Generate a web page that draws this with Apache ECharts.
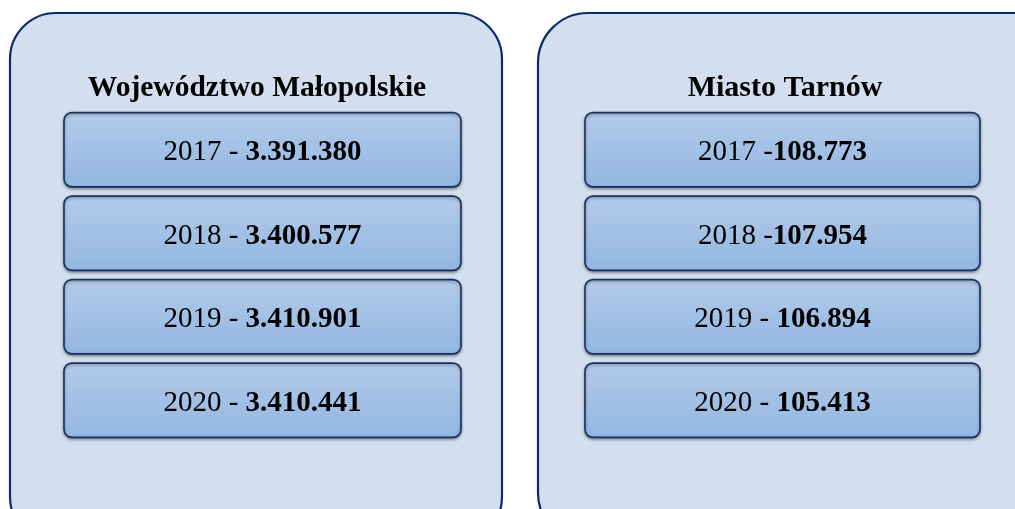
<!DOCTYPE html>
<html><head><meta charset="utf-8">
<script src="https://cdn.jsdelivr.net/npm/echarts@6/dist/echarts.min.js"></script>
<style>html,body{margin:0;padding:0;background:#fff}#c{width:1015px;height:509px}</style>
</head><body><div id="c"></div>
<script>
const years = ['2017', '2018', '2019', '2020'];
const titleLeft = 'Województwo Małopolskie';
const titleRight = 'Miasto Tarnów';
const valuesLeft = ['3.391.380', '3.400.577', '3.410.901', '3.410.441'];
const valuesRight = ['108.773', '107.954', '106.894', '105.413'];
const sepLeft = [' - ', ' - ', ' - ', ' - '];
const sepRight = [' -', ' -', ' - ', ' - '];

const FONT = '"Liberation Serif", "Times New Roman", serif';
const chart = echarts.init(document.getElementById('c'));

function makeRender(values, seps) {
  return function (params, api) {
    const i = api.value(0);
    const c = api.coord([0.5, i]);
    const s = api.size([1, 1]);
    const w = s[0], h = s[1] * 0.89;
    return {
      type: 'rect',
      shape: { x: c[0] - w / 2, y: c[1] - h / 2, width: w, height: h, r: 8 },
      style: {
        fill: new echarts.graphic.LinearGradient(0, 0, 0, 1, [
          { offset: 0, color: '#B3CBE9' },
          { offset: 1, color: '#92B6E2' }
        ]),
        stroke: '#1B2F5C',
        lineWidth: 1.6,
        shadowBlur: 3,
        shadowOffsetY: 1.5,
        shadowColor: 'rgba(0,0,0,0.35)'
      },
      textContent: {
        style: {
          text: '{a|' + years[i] + seps[i] + '}{b|' + values[i] + '}',
          fill: '#000',
          fontWeight: 'normal',
          rich: {
            a: { fontFamily: FONT, fontSize: 29, fontWeight: 'normal', fill: '#000' },
            b: { fontFamily: FONT, fontSize: 29, fontWeight: 'bold', fill: '#000' }
          }
        }
      },
      textConfig: { position: 'inside', offset: [0, 3], insideFill: '#000', insideStroke: 'transparent' }
    };
  };
}

const catAxis = (gi) => ({ type: 'category', gridIndex: gi, data: years, inverse: true, show: false });
const valAxis = (gi) => ({ type: 'value', gridIndex: gi, min: 0, max: 1, show: false });

chart.setOption({
  animation: false,
  graphic: [
    { type: 'rect', z: -10, shape: { x: 10, y: 13, width: 492, height: 530, r: 46 },
      style: { fill: '#D3DEEF', stroke: '#0D2A6B', lineWidth: 2.2 } },
    { type: 'rect', z: -10, shape: { x: 538, y: 13, width: 530, height: 530, r: 50 },
      style: { fill: '#D3DEEF', stroke: '#0D2A6B', lineWidth: 2.2 } },
    { type: 'text', z: 10, x: 257, y: 88, style: { text: titleLeft, fontFamily: FONT, fontSize: 29.5, fontWeight: 'bold', fill: '#000', align: 'center', verticalAlign: 'middle' } },
    { type: 'text', z: 10, x: 785, y: 88, style: { text: titleRight, fontFamily: FONT, fontSize: 30, fontWeight: 'bold', fill: '#000', align: 'center', verticalAlign: 'middle' } }
  ],
  grid: [
    { left: 64, width: 397, top: 108, height: 334 },
    { left: 585, width: 395, top: 108, height: 334 }
  ],
  xAxis: [valAxis(0), valAxis(1)],
  yAxis: [catAxis(0), catAxis(1)],
  series: [
    { type: 'custom', xAxisIndex: 0, yAxisIndex: 0, data: years.map((y, i) => [i]), renderItem: makeRender(valuesLeft, sepLeft) },
    { type: 'custom', xAxisIndex: 1, yAxisIndex: 1, data: years.map((y, i) => [i]), renderItem: makeRender(valuesRight, sepRight) }
  ]
});
</script></body></html>
